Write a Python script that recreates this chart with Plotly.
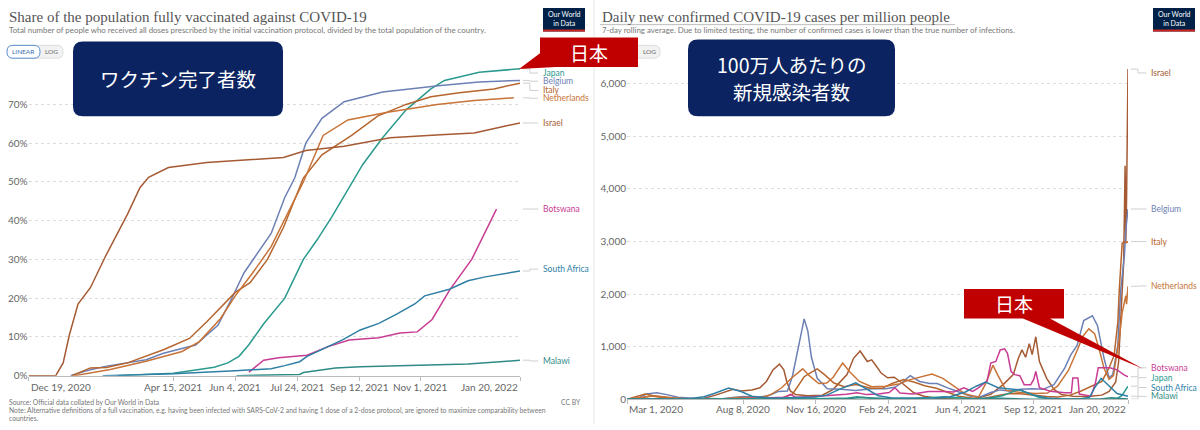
import plotly.graph_objects as go

W, H = 1200, 430

# ---------------- left chart: share fully vaccinated (%) ----------------
vax_japan_dates = ['2021-03-01', '2021-04-15', '2021-05-18', '2021-05-29', '2021-06-07', '2021-06-15',
                   '2021-06-27', '2021-07-14', '2021-07-29', '2021-08-09', '2021-08-21', '2021-09-01',
                   '2021-09-15', '2021-10-01', '2021-10-20', '2021-11-09', '2021-11-20', '2021-12-18',
                   '2022-01-20']
vax_japan = [0, 0.6, 2.2, 3.3, 5.0, 8.0, 13.4, 20.0, 30.0, 35.0, 41.0, 46.8, 54.5, 61.4, 68.6, 74.0,
             76.2, 78.3, 79.2]

vax_belgium_dates = ['2021-01-22', '2021-02-03', '2021-02-19', '2021-03-09', '2021-03-24', '2021-04-07',
                     '2021-04-19', '2021-05-03', '2021-05-12', '2021-05-21', '2021-06-01', '2021-06-11',
                     '2021-06-20', '2021-07-03', '2021-07-14', '2021-07-22', '2021-07-31', '2021-08-13',
                     '2021-08-31', '2021-10-01', '2021-11-17', '2021-12-18', '2022-01-20']
vax_belgium = [0, 1.2, 2.4, 3.3, 4.1, 5.8, 6.7, 7.9, 10.5, 13.0, 19.8, 26.5, 30.7, 36.7, 46.0, 51.0,
               60.0, 66.4, 70.7, 73.2, 74.9, 75.8, 76.2]

vax_italy_dates = ['2021-01-23', '2021-02-07', '2021-02-20', '2021-03-09', '2021-04-07', '2021-04-28',
                   '2021-05-12', '2021-05-26', '2021-06-04', '2021-06-16', '2021-06-30', '2021-07-13',
                   '2021-07-29', '2021-08-13', '2021-09-06', '2021-09-27', '2021-10-20', '2021-11-09',
                   '2021-12-02', '2021-12-30', '2022-01-20']
vax_italy = [0, 2.0, 2.1, 3.3, 6.7, 9.6, 13.9, 18.5, 21.5, 24.0, 30.0, 38.3, 51.0, 57.0, 62.0, 67.0,
             70.0, 72.0, 73.0, 74.0, 75.5]

vax_nl_dates = ['2021-01-25', '2021-02-23', '2021-03-24', '2021-04-22', '2021-05-06', '2021-05-23',
                '2021-06-04', '2021-06-18', '2021-07-03', '2021-07-20', '2021-07-29', '2021-08-14',
                '2021-09-03', '2021-10-05', '2021-11-14', '2021-12-14', '2022-01-15']
vax_nl = [0, 1.6, 3.7, 6.25, 8.8, 14.7, 20.6, 26.5, 33.3, 44.3, 50.0, 62.0, 66.0, 68.0, 70.0, 71.0, 71.7]

vax_israel_dates = ['2020-12-19', '2021-01-10', '2021-01-16', '2021-01-21', '2021-01-28', '2021-02-07',
                    '2021-02-19', '2021-03-01', '2021-03-09', '2021-03-19', '2021-03-26', '2021-04-11',
                    '2021-05-12', '2021-07-13', '2021-07-31', '2021-08-31', '2021-10-07', '2021-11-17',
                    '2021-12-14', '2022-01-02', '2022-01-20']
vax_israel = [0, 0, 3.3, 10.5, 18.5, 22.7, 30.7, 36.7, 41.7, 48.5, 51.2, 53.7, 55.0, 56.3, 58.1, 59.2,
              61.4, 62.2, 62.6, 64.0, 65.2]

vax_botswana_dates = ['2021-06-15', '2021-06-27', '2021-07-09', '2021-08-01', '2021-08-18', '2021-09-04',
                      '2021-09-28', '2021-10-15', '2021-10-29', '2021-11-10', '2021-11-24', '2021-12-12',
                      '2022-01-01']
vax_botswana = [0.9, 4.0, 4.6, 5.3, 7.5, 9.2, 9.8, 11.0, 11.3, 14.5, 22.0, 30.0, 43.0]

vax_sa_dates = ['2021-02-17', '2021-04-15', '2021-06-04', '2021-07-03', '2021-07-14', '2021-07-26',
                '2021-08-01', '2021-08-15', '2021-08-30', '2021-09-13', '2021-09-28', '2021-10-12',
                '2021-10-27', '2021-11-04', '2021-11-24', '2021-12-09', '2021-12-23', '2022-01-20']
vax_sa = [0, 0.5, 1.3, 1.8, 2.6, 3.6, 5.0, 7.0, 9.3, 11.8, 13.5, 15.8, 18.5, 20.6, 22.3, 24.5, 25.5, 27.0]

vax_malawi_dates = ['2021-06-05', '2021-07-26', '2021-07-29', '2021-08-15', '2021-08-24', '2021-09-13',
                    '2021-10-27', '2021-12-09', '2022-01-01', '2022-01-20']
vax_malawi = [0, 0.3, 0.8, 1.5, 2.0, 2.3, 2.6, 3.0, 3.5, 4.0]

left_ticks = ['2020-12-19', '2021-04-15', '2021-06-04', '2021-07-24', '2021-09-12', '2021-11-01', '2022-01-20']
left_tick_text = ['Dec 19, 2020', 'Apr 15, 2021', 'Jun 4, 2021', 'Jul 24, 2021', 'Sep 12, 2021',
                  'Nov 1, 2021', 'Jan 20, 2022']
left_y_ticks = [0, 10, 20, 30, 40, 50, 60, 70]
left_y_tick_text = ['0%', '10%', '20%', '30%', '40%', '50%', '60%', '70%']

# ---------------- right chart: daily new cases per million ----------------
cases_belgium_dates = ['2020-03-01', '2020-03-15', '2020-03-28', '2020-04-11', '2020-04-25', '2020-05-10',
                       '2020-05-31', '2020-06-20', '2020-07-10', '2020-07-25', '2020-08-08', '2020-08-25',
                       '2020-09-10', '2020-09-25', '2020-10-08', '2020-10-15', '2020-10-22', '2020-10-31',
                       '2020-11-05', '2020-11-10', '2020-11-18', '2020-12-02', '2020-12-20', '2021-01-10',
                       '2021-02-01', '2021-02-20', '2021-03-05', '2021-03-15', '2021-03-26', '2021-04-08',
                       '2021-04-22', '2021-05-02', '2021-05-20', '2021-06-03', '2021-06-17', '2021-07-01',
                       '2021-07-15', '2021-07-28', '2021-08-10', '2021-08-25', '2021-09-10', '2021-09-25',
                       '2021-10-10', '2021-10-25', '2021-11-02', '2021-11-11', '2021-11-20', '2021-12-02',
                       '2021-12-09', '2021-12-18', '2021-12-25', '2021-12-30', '2022-01-06', '2022-01-10',
                       '2022-01-15', '2022-01-17', '2022-01-20']
cases_belgium = [0, 15, 100, 125, 90, 40, 20, 10, 12, 35, 55, 45, 60, 150, 160, 450, 900, 1530, 1300, 800,
                 400, 200, 190, 170, 200, 200, 230, 320, 450, 340, 300, 300, 200, 125, 60, 50, 130, 180,
                 160, 190, 200, 190, 280, 600, 840, 1030, 1500, 1590, 1400, 780, 410, 470, 1030, 2090,
                 2720, 3220, 3620]

cases_israel_dates = ['2020-03-01', '2020-03-20', '2020-04-03', '2020-04-20', '2020-05-10', '2020-06-01',
                      '2020-06-15', '2020-07-01', '2020-07-15', '2020-07-25', '2020-08-05', '2020-08-20',
                      '2020-08-31', '2020-09-09', '2020-09-18', '2020-09-27', '2020-10-03', '2020-10-07',
                      '2020-10-12', '2020-10-19', '2020-11-05', '2020-11-25', '2020-12-10', '2020-12-29',
                      '2021-01-07', '2021-01-16', '2021-01-26', '2021-02-01', '2021-02-08', '2021-02-14',
                      '2021-02-23', '2021-03-04', '2021-03-13', '2021-03-22', '2021-03-31', '2021-04-14',
                      '2021-05-02', '2021-06-01', '2021-06-20', '2021-07-01', '2021-07-15', '2021-08-01',
                      '2021-08-15', '2021-08-22', '2021-08-27', '2021-09-01', '2021-09-06', '2021-09-10',
                      '2021-09-15', '2021-09-20', '2021-09-30', '2021-10-10', '2021-10-20', '2021-11-05',
                      '2021-11-25', '2021-12-15', '2021-12-25', '2022-01-03', '2022-01-07', '2022-01-11',
                      '2022-01-14', '2022-01-16', '2022-01-17', '2022-01-18', '2022-01-19', '2022-01-20']
cases_israel = [0, 25, 65, 30, 3, 3, 20, 80, 150, 190, 160, 180, 220, 340, 560, 670, 560, 340, 160, 90,
                70, 80, 190, 470, 780, 920, 720, 750, 620, 500, 410, 420, 330, 220, 125, 60, 20, 3, 15,
                40, 94, 280, 470, 780, 940, 800, 1060, 850, 1190, 720, 400, 190, 94, 60, 55, 80, 150,
                330, 700, 1800, 2600, 4440, 3000, 3800, 5000, 6280]

cases_nl_dates = ['2020-03-01', '2020-03-20', '2020-04-05', '2020-04-25', '2020-05-15', '2020-06-15',
                  '2020-07-10', '2020-07-31', '2020-08-15', '2020-09-01', '2020-09-15', '2020-09-30',
                  '2020-10-15', '2020-10-29', '2020-11-07', '2020-11-20', '2020-12-01', '2020-12-10',
                  '2020-12-23', '2021-01-02', '2021-01-15', '2021-02-01', '2021-02-20', '2021-03-10',
                  '2021-03-25', '2021-04-10', '2021-04-25', '2021-05-10', '2021-05-25', '2021-06-10',
                  '2021-06-28', '2021-07-08', '2021-07-18', '2021-07-25', '2021-08-05', '2021-08-25',
                  '2021-09-15', '2021-10-01', '2021-10-15', '2021-10-30', '2021-11-10', '2021-11-19',
                  '2021-11-27', '2021-12-05', '2021-12-11', '2021-12-18', '2021-12-25', '2021-12-31',
                  '2022-01-08', '2022-01-12', '2022-01-17', '2022-01-18', '2022-01-20']
cases_nl = [0, 30, 65, 40, 15, 5, 8, 35, 35, 35, 90, 220, 420, 580, 450, 300, 310, 420, 690, 520, 340,
            240, 250, 290, 370, 430, 480, 400, 250, 100, 40, 300, 650, 450, 170, 130, 110, 120, 250, 550,
            900, 1200, 1340, 1250, 970, 590, 380, 450, 1160, 1650, 1970, 1810, 2150]

cases_italy_dates = ['2020-03-01', '2020-03-12', '2020-03-26', '2020-04-05', '2020-04-20', '2020-05-05',
                     '2020-05-25', '2020-06-20', '2020-07-15', '2020-08-05', '2020-08-25', '2020-09-15',
                     '2020-10-01', '2020-10-15', '2020-10-31', '2020-11-08', '2020-11-18', '2020-11-28',
                     '2020-12-11', '2020-12-25', '2021-01-10', '2021-01-31', '2021-02-15', '2021-03-01',
                     '2021-03-17', '2021-03-31', '2021-04-15', '2021-05-01', '2021-05-15', '2021-06-01',
                     '2021-06-20', '2021-07-05', '2021-07-25', '2021-08-10', '2021-08-25', '2021-09-10',
                     '2021-09-30', '2021-10-15', '2021-11-01', '2021-11-15', '2021-12-01', '2021-12-15',
                     '2021-12-25', '2022-01-01', '2022-01-06', '2022-01-08', '2022-01-12', '2022-01-15',
                     '2022-01-18', '2022-01-20']
cases_italy = [1, 40, 100, 75, 50, 22, 10, 4, 4, 6, 20, 25, 30, 100, 430, 500, 580, 470, 310, 240, 280,
               210, 210, 300, 375, 330, 260, 210, 140, 60, 22, 18, 75, 110, 105, 80, 55, 45, 80, 150, 250,
               340, 600, 840, 1470, 2090, 2970, 3000, 2980, 3000]

cases_botswana_dates = ['2020-03-01', '2020-06-01', '2020-07-15', '2020-08-10', '2020-09-01', '2020-10-05',
                        '2020-10-12', '2020-10-19', '2020-11-10', '2020-12-10', '2020-12-28', '2021-01-12',
                        '2021-01-25', '2021-02-10', '2021-02-25', '2021-03-05', '2021-03-12', '2021-03-30',
                        '2021-04-20', '2021-05-10', '2021-05-25', '2021-06-08', '2021-06-20', '2021-06-28',
                        '2021-07-10', '2021-07-15', '2021-07-22', '2021-07-28', '2021-08-03', '2021-08-07',
                        '2021-08-12', '2021-08-17', '2021-08-24', '2021-08-30', '2021-09-08', '2021-09-12',
                        '2021-09-15', '2021-09-20', '2021-10-05', '2021-10-25', '2021-11-03', '2021-11-05',
                        '2021-11-12', '2021-11-14', '2021-11-30', '2021-12-06', '2021-12-10', '2021-12-26',
                        '2022-01-05', '2022-01-14', '2022-01-20']
cases_botswana = [0, 0.5, 5, 15, 25, 40, 94, 40, 50, 70, 95, 125, 90, 100, 130, 220, 120, 100, 150, 150,
                  140, 220, 150, 220, 350, 690, 720, 940, 960, 875, 530, 470, 450, 280, 280, 375, 530, 220,
                  156, 125, 125, 406, 406, 100, 60, 300, 600, 600, 560, 470, 430]

cases_japan_dates = ['2020-03-01', '2020-03-25', '2020-04-12', '2020-05-05', '2020-05-25', '2020-06-20',
                     '2020-07-10', '2020-08-05', '2020-08-25', '2020-09-15', '2020-10-15', '2020-11-10',
                     '2020-11-30', '2020-12-31', '2021-01-12', '2021-01-31', '2021-02-20', '2021-03-10',
                     '2021-04-01', '2021-04-25', '2021-05-12', '2021-06-01', '2021-06-20', '2021-07-10',
                     '2021-07-31', '2021-08-22', '2021-09-05', '2021-09-20', '2021-10-10', '2021-11-01',
                     '2021-12-01', '2021-12-25', '2022-01-05', '2022-01-12', '2022-01-20']
cases_japan = [0.5, 2, 4.5, 2, 0.3, 0.5, 3, 11, 6, 4, 4, 10, 18, 28, 50, 22, 9, 9, 15, 38, 50, 30, 12, 20,
               70, 185, 110, 35, 6, 2, 1, 2, 15, 80, 250]

cases_sa_dates = ['2020-03-01', '2020-04-01', '2020-05-01', '2020-05-25', '2020-06-15', '2020-06-29',
                  '2020-07-19', '2020-08-05', '2020-08-20', '2020-09-10', '2020-10-01', '2020-10-25',
                  '2020-11-15', '2020-12-01', '2020-12-20', '2021-01-10', '2021-01-25', '2021-02-10',
                  '2021-03-01', '2021-04-01', '2021-05-01', '2021-05-20', '2021-06-10', '2021-06-25',
                  '2021-07-08', '2021-07-25', '2021-08-10', '2021-08-25', '2021-09-10', '2021-09-30',
                  '2021-10-25', '2021-11-15', '2021-11-28', '2021-12-05', '2021-12-14', '2021-12-25',
                  '2022-01-05', '2022-01-20']
cases_sa = [0, 1, 4, 12, 50, 110, 215, 150, 60, 30, 25, 28, 45, 80, 200, 315, 200, 70, 25, 20, 25, 50,
            140, 250, 330, 220, 200, 180, 90, 25, 5, 7, 40, 220, 400, 250, 110, 60]

cases_malawi_dates = ['2020-03-01', '2020-06-01', '2020-07-25', '2020-08-20', '2020-10-01', '2020-12-15',
                      '2021-01-20', '2021-02-10', '2021-03-01', '2021-05-01', '2021-06-15', '2021-07-15',
                      '2021-08-10', '2021-09-10', '2021-11-01', '2021-12-10', '2021-12-28', '2022-01-10',
                      '2022-01-20']
cases_malawi = [0, 1, 8, 3, 0.5, 1, 35, 15, 5, 0.5, 2, 25, 12, 2, 0.3, 2, 30, 15, 6]

right_ticks = ['2020-03-01', '2020-08-08', '2020-11-16', '2021-02-24', '2021-06-04', '2021-09-12', '2022-01-20']
right_tick_text = ['Mar 1, 2020', 'Aug 8, 2020', 'Nov 16, 2020', 'Feb 24, 2021', 'Jun 4, 2021',
                   'Sep 12, 2021', 'Jan 20, 2022']
right_y_ticks = [0, 1000, 2000, 3000, 4000, 5000, 6000]

colors = {
    'Japan': '#2b9a8e', 'Belgium': '#6d80b5', 'Italy': '#b5652d', 'Netherlands': '#c87337',
    'Israel': '#a55a33', 'Botswana': '#c83c93', 'South Africa': '#2f7fa5', 'Malawi': '#2f8a86',
}

left_series = [
    ('Japan', vax_japan_dates, vax_japan), ('Belgium', vax_belgium_dates, vax_belgium),
    ('Italy', vax_italy_dates, vax_italy), ('Netherlands', vax_nl_dates, vax_nl),
    ('Israel', vax_israel_dates, vax_israel), ('Botswana', vax_botswana_dates, vax_botswana),
    ('South Africa', vax_sa_dates, vax_sa), ('Malawi', vax_malawi_dates, vax_malawi),
]
right_series = [
    ('Israel', cases_israel_dates, cases_israel), ('Belgium', cases_belgium_dates, cases_belgium),
    ('Italy', cases_italy_dates, cases_italy), ('Netherlands', cases_nl_dates, cases_nl),
    ('Botswana', cases_botswana_dates, cases_botswana), ('Japan', cases_japan_dates, cases_japan),
    ('South Africa', cases_sa_dates, cases_sa), ('Malawi', cases_malawi_dates, cases_malawi),
]

# where OWID stacks the end labels (in axis units)
left_label_pos = {'Japan': 78.1, 'Belgium': 76.0, 'Italy': 73.6, 'Netherlands': 71.6, 'Israel': 65.2,
                  'Botswana': 43.0, 'South Africa': 27.5, 'Malawi': 3.8}
right_label_pos = {'Israel': 6206, 'Belgium': 3619, 'Italy': 3000, 'Netherlands': 2156, 'Botswana': 600,
                   'Japan': 413, 'South Africa': 225, 'Malawi': 56}


def px(x):
    return x / W


def py(y):
    return 1 - y / H


fig = go.Figure()
for name, d, v in left_series:
    fig.add_trace(go.Scatter(x=d, y=v, mode='lines', line=dict(color=colors[name], width=1.5),
                             xaxis='x', yaxis='y', hoverinfo='skip'))
for name, d, v in right_series:
    fig.add_trace(go.Scatter(x=d, y=v, mode='lines', line=dict(color=colors[name], width=1.5),
                             xaxis='x2', yaxis='y2', hoverinfo='skip'))

annotations = []
shapes = []


def text(x, y, s, size, color='#666', family='Lato', xanchor='left', yanchor='middle'):
    annotations.append(dict(x=px(x), y=py(y), xref='paper', yref='paper', text=s, showarrow=False,
                            xanchor=xanchor, yanchor=yanchor, font=dict(family=family, size=size, color=color)))


def rounded(x0, y0, x1, y1, r, fill, line='rgba(0,0,0,0)'):
    p = (f"M {px(x0 + r)},{py(y0)} L {px(x1 - r)},{py(y0)} Q {px(x1)},{py(y0)} {px(x1)},{py(y0 + r)} "
         f"L {px(x1)},{py(y1 - r)} Q {px(x1)},{py(y1)} {px(x1 - r)},{py(y1)} "
         f"L {px(x0 + r)},{py(y1)} Q {px(x0)},{py(y1)} {px(x0)},{py(y1 - r)} "
         f"L {px(x0)},{py(y0 + r)} Q {px(x0)},{py(y0)} {px(x0 + r)},{py(y0)} Z")
    shapes.append(dict(type='path', path=p, xref='paper', yref='paper', fillcolor=fill,
                       line=dict(color=line, width=1), layer='above'))


def poly(points, fill):
    p = 'M ' + ' L '.join(f"{px(x)},{py(y)}" for x, y in points) + ' Z'
    shapes.append(dict(type='path', path=p, xref='paper', yref='paper', fillcolor=fill,
                       line=dict(width=0), layer='above'))


# end-of-line labels with elbow connectors
for series, pos, xa, ya in [(left_series, left_label_pos, 'x', 'y'), (right_series, right_label_pos, 'x2', 'y2')]:
    for name, d, v in series:
        shapes.append(dict(type='path', xref=xa + ' domain', yref=ya,
                           path=f"M 1.006,{v[-1]} H 1.02 V {pos[name]} H 1.037",
                           line=dict(color='#cfcfcf', width=1)))
        annotations.append(dict(x=1.042, y=pos[name], xref=xa + ' domain', yref=ya, text=name,
                                showarrow=False, xanchor='left', yanchor='middle',
                                font=dict(family='Lato', size=8.5, color=colors[name])))

# x tick labels (first left-aligned, last right-aligned as OWID does)
for ticks, labels, xa, ylab in [(left_ticks, left_tick_text, 'x', 392), (right_ticks, right_tick_text, 'x2', 415)]:
    for i, (t, s) in enumerate(zip(ticks, labels)):
        anchor = 'left' if i == 0 else ('right' if i == len(ticks) - 1 else 'center')
        annotations.append(dict(x=t, y=py(ylab), xref=xa, yref='paper', text=s, showarrow=False,
                                xanchor=anchor, yanchor='middle',
                                font=dict(family='Lato', size=10, color='#666')))

# headers
text(7, 17, 'Share of the population fully vaccinated against COVID-19', 15, '#555', 'Liberation Serif')
text(7, 30, 'Total number of people who received all doses prescribed by the initial vaccination protocol, '
            'divided by the total population of the country.', 7.9, '#777')
text(600, 17, 'Daily new confirmed COVID-19 cases per million people', 15, '#555', 'Liberation Serif')
shapes.append(dict(type='line', x0=px(600), x1=px(955), y0=py(25), y1=py(25), xref='paper', yref='paper',
                   line=dict(color='#aaa', width=0.8)))
text(600, 30, '7-day rolling average. Due to limited testing, the number of confirmed cases is lower than '
              'the true number of infections.', 7.9, '#777')

# OWID logos
for lx in (543, 1153):
    shapes.append(dict(type='rect', x0=px(lx), x1=px(lx + 42), y0=py(8), y1=py(32), xref='paper', yref='paper',
                       fillcolor='#002147', line=dict(width=0)))
    shapes.append(dict(type='rect', x0=px(lx), x1=px(lx + 42), y0=py(30), y1=py(32), xref='paper', yref='paper',
                       fillcolor='#ce261e', line=dict(width=0)))
    text(lx + 21, 19, 'Our World<br>in Data', 7, 'white', 'Lato', xanchor='center')

# LINEAR / LOG toggles
rounded(7, 46, 63, 59, 6, '#f2f2f2', '#dddddd')
rounded(7, 46, 40, 59, 6, 'white', '#5b8fd0')
text(23.5, 52.5, 'LINEAR', 6.5, '#3a6fb0', 'Lato', xanchor='center')
text(51.5, 52.5, 'LOG', 6.5, '#666', 'Lato', xanchor='center')
rounded(628, 46, 660, 59, 6, '#f2f2f2', '#dddddd')
text(649, 52.5, 'LOG', 6.5, '#666', 'Lato', xanchor='center')

# footer
text(7, 408, 'Source: Official data collated by Our World in Data', 6.8, '#777')
text(7, 416, 'Note: Alternative definitions of a full vaccination, e.g. having been infected with SARS-CoV-2 '
             'and having 1 dose of a 2-dose protocol, are ignored to maximize comparability between', 6.8, '#777')
text(7, 424, 'countries.', 6.8, '#777')
text(583, 408, 'CC BY', 6.8, '#777', xanchor='right')

# divider between the two panels
shapes.append(dict(type='line', x0=px(594), x1=px(594), y0=0, y1=1, xref='paper', yref='paper',
                   line=dict(color='#e6e6e6', width=1)))

# callout boxes
navy = '#0b2461'
red = '#c00000'
rounded(73, 42, 283, 118, 10, navy)
text(178, 80, 'ワクチン完了者数', 19.5, 'white', 'Noto Sans CJK JP', xanchor='center')
rounded(688, 40, 895, 118, 10, navy)
text(791, 65, '100万人あたりの', 19.5, 'white', 'Noto Sans CJK JP', xanchor='center')
text(791, 93, '新規感染者数', 19.5, 'white', 'Noto Sans CJK JP', xanchor='center')

poly([(540, 38), (638, 38), (638, 68), (556, 68), (519, 70), (540, 54)], red)
text(589, 53, '日本', 19, 'white', 'Noto Sans CJK JP', xanchor='center')
poly([(964, 293), (1064, 293), (1064, 323), (1050, 323), (1143, 374), (1023, 323), (964, 323)], red)
text(1014, 308, '日本', 19, 'white', 'Noto Sans CJK JP', xanchor='center')

tick_font = dict(family='Lato', size=10, color='#666')
fig.update_layout(
    width=W, height=H, margin=dict(l=0, r=0, t=0, b=0),
    paper_bgcolor='white', plot_bgcolor='white', showlegend=False, hovermode=False,
    xaxis=dict(domain=[px(28.5), px(520)], range=[left_ticks[0], left_ticks[-1]], type='date',
               showgrid=False, zeroline=False, showline=True, linecolor='#bbb', ticks='outside',
               ticklen=4, tickcolor='#bbb', tickvals=left_ticks, showticklabels=False, anchor='y'),
    yaxis=dict(domain=[py(381), py(66.6)], range=[0, 80], tickvals=left_y_ticks, ticktext=left_y_tick_text,
               showgrid=True, gridcolor='#dcdcdc', griddash='dot', zeroline=False, tickfont=tick_font,
               anchor='x'),
    xaxis2=dict(domain=[px(627), px(1128)], range=[right_ticks[0], right_ticks[-1]], type='date',
                showgrid=False, zeroline=False, showline=True, linecolor='#bbb', ticks='outside',
                ticklen=4, tickcolor='#bbb', tickvals=right_ticks, showticklabels=False, anchor='y2'),
    yaxis2=dict(domain=[py(405), py(69)], range=[0, 6300], tickvals=right_y_ticks, tickformat=',',
                showgrid=True, gridcolor='#dcdcdc', griddash='dot', zeroline=False, tickfont=tick_font,
                anchor='x2'),
    annotations=annotations, shapes=shapes,
)

# the page's default 8px body margin would push the 1200px figure past the window edge
fig.write_html("out.html", config={'displayModeBar': False},
               post_script="document.body.style.margin = '0';")
